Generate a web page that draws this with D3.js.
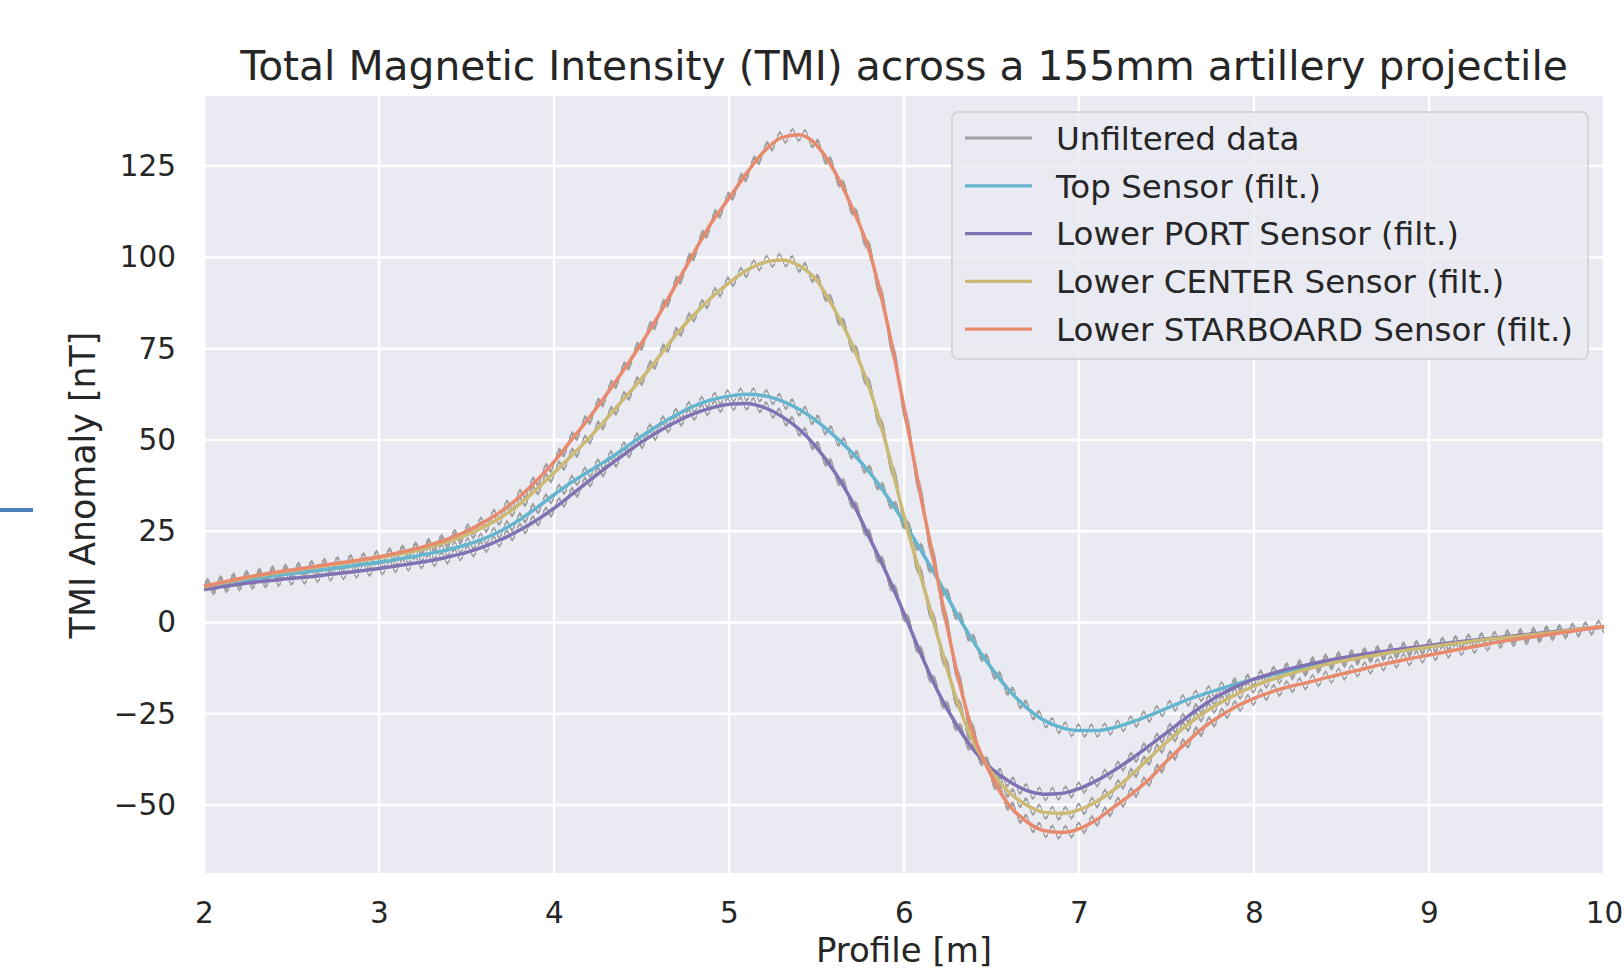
<!DOCTYPE html>
<html>
<head>
<meta charset="utf-8">
<script src="https://cdn.jsdelivr.net/npm/d3@7"></script>
<style>
  body { margin: 0; background: #fff; }
  svg text { font-family: "DejaVu Sans", sans-serif; fill: #262626; }
</style>
</head>
<body>
<svg id="chart" width="1624" height="970"></svg>
<script>
// profile positions [m]
const profile = [
  2.0, 2.1, 2.2, 2.3, 2.4, 2.5, 2.6, 2.7, 2.8, 2.9,
  3.0, 3.1, 3.2, 3.3, 3.4, 3.5, 3.6, 3.7, 3.8, 3.9,
  4.0, 4.1, 4.2, 4.3, 4.4, 4.5, 4.6, 4.7, 4.8, 4.9,
  5.0, 5.1, 5.2, 5.3, 5.4, 5.5, 5.6, 5.7, 5.8, 5.9,
  6.0, 6.1, 6.2, 6.3, 6.4, 6.5, 6.6, 6.7, 6.8, 6.9,
  7.0, 7.1, 7.2, 7.3, 7.4, 7.5, 7.6, 7.7, 7.8, 7.9,
  8.0, 8.1, 8.2, 8.3, 8.4, 8.5, 8.6, 8.7, 8.8, 8.9,
  9.0, 9.1, 9.2, 9.3, 9.4, 9.5, 9.6, 9.7, 9.8, 9.9,
  10.0
];

// filtered TMI anomaly [nT]
const topSensor = [
  9.8, 10.6, 11.4, 12.1, 12.8, 13.4, 14.0, 14.6, 15.2, 15.9,
  16.5, 17.3, 18.1, 19.0, 20.0, 21.3, 23.0, 25.2, 28.0, 31.4,
  35.0, 38.4, 41.4, 44.4, 47.6, 51.0, 54.1, 56.9, 59.3, 61.0,
  62.0, 62.5, 62.1, 60.7, 58.4, 55.2, 51.2, 46.7, 41.3, 34.8,
  27.5, 19.5, 11.3, 2.5, -5.5, -12.5, -18.5, -23.3, -26.8, -28.8,
  -29.6, -29.6, -28.8, -27.3, -25.5, -23.5, -21.5, -19.8, -18.3, -16.8,
  -15.5, -14.3, -13.2, -12.2, -11.3, -10.4, -9.6, -8.8, -8.1, -7.4,
  -6.7, -6.0, -5.4, -4.8, -4.2, -3.7, -3.2, -2.7, -2.2, -1.7,
  -1.2
];
const portSensor = [
  9.0, 9.8, 10.5, 11.1, 11.6, 12.1, 12.5, 13.1, 13.6, 14.2,
  14.8, 15.5, 16.2, 17.0, 18.0, 19.2, 20.8, 22.8, 25.2, 28.0,
  31.3, 35.0, 38.8, 42.5, 46.0, 49.4, 52.4, 55.0, 57.2, 58.8,
  59.8, 60.0, 58.9, 56.5, 53.0, 48.0, 41.5, 33.5, 23.5, 13.5,
  2.5, -9.0, -19.5, -28.0, -35.0, -40.0, -43.5, -46.0, -47.0, -46.8,
  -45.5, -43.3, -40.5, -37.3, -33.8, -30.2, -26.5, -23.0, -20.0, -17.5,
  -15.5, -14.0, -12.7, -11.6, -10.6, -9.7, -8.9, -8.2, -7.5, -6.9,
  -6.3, -5.7, -5.1, -4.6, -4.1, -3.6, -3.1, -2.6, -2.1, -1.6,
  -1.2
];
const centerSensor = [
  9.8, 10.8, 11.8, 12.7, 13.5, 14.2, 14.9, 15.6, 16.3, 17.0,
  17.7, 18.6, 19.6, 20.8, 22.2, 24.0, 26.2, 28.9, 32.3, 36.5,
  41.0, 45.7, 50.5, 55.8, 61.3, 66.8, 72.8, 79.0, 84.3, 89.0,
  93.0, 96.4, 98.6, 99.3, 97.8, 93.8, 86.0, 76.5, 64.5, 48.5,
  29.0, 12.0, -5.0, -21.0, -33.0, -41.0, -46.5, -50.0, -52.0, -52.3,
  -51.3, -49.0, -45.8, -41.7, -37.2, -32.8, -28.8, -25.2, -22.2, -19.6,
  -17.4, -15.6, -14.1, -12.8, -11.6, -10.6, -9.7, -8.9, -8.1, -7.4,
  -6.7, -6.0, -5.4, -4.8, -4.3, -3.8, -3.3, -2.8, -2.2, -1.6,
  -1.1
];
const starboardSensor = [
  10.0, 11.0, 12.0, 12.9, 13.7, 14.4, 15.1, 15.8, 16.5, 17.2,
  18.0, 19.0, 20.1, 21.4, 23.0, 25.0, 27.5, 30.5, 34.3, 38.8,
  44.0, 50.0, 56.0, 62.5, 69.3, 76.5, 84.3, 92.8, 101.3, 109.5,
  116.2, 123.0, 129.0, 132.8, 133.6, 130.8, 123.8, 114.0, 102.0, 83.0,
  59.0, 33.5, 10.0, -13.0, -31.0, -42.0, -50.0, -54.5, -57.0, -57.5,
  -56.5, -54.0, -50.5, -47.0, -43.0, -38.0, -33.5, -29.2, -25.8, -23.0,
  -20.8, -19.0, -17.6, -16.5, -15.3, -14.1, -13.0, -11.8, -10.8, -9.8,
  -8.9, -8.0, -7.1, -6.2, -5.3, -4.6, -3.9, -3.2, -2.5, -1.8,
  -1.1
];

const seriesNames = ["Top Sensor (filt.)", "Lower PORT Sensor (filt.)", "Lower CENTER Sensor (filt.)", "Lower STARBOARD Sensor (filt.)"];
const seriesValues = [topSensor, portSensor, centerSensor, starboardSensor];
const seriesColors = ["#64b5cd", "#8172b3", "#ccb974", "#e88a6d"];

const xTicks = [2, 3, 4, 5, 6, 7, 8, 9, 10];
const yTicks = [-50, -25, 0, 25, 50, 75, 100, 125];

const svg = d3.select("#chart");

const x = d3.scaleLinear().domain([2, 10]).range([204, 1604]);
const y = d3.scaleLinear().domain([-68.6, 144.2]).range([873, 96]);

// plot background
svg.append("rect").attr("x", 204).attr("y", 96).attr("width", 1400).attr("height", 777).attr("fill", "#eaeaf2");

// grid
svg.append("g").selectAll("line").data(xTicks).join("line")
  .attr("x1", d => x(d)).attr("x2", d => x(d)).attr("y1", 96).attr("y2", 873)
  .attr("stroke", "#fff").attr("stroke-width", 2.5);
svg.append("g").selectAll("line").data(yTicks).join("line")
  .attr("x1", 204).attr("x2", 1604).attr("y1", d => y(d)).attr("y2", d => y(d))
  .attr("stroke", "#fff").attr("stroke-width", 2.5);

// ripple filter for the unfiltered traces (periodic vertical displacement)
const waveStops = [[0, 128], [0.125, 218], [0.25, 255], [0.375, 218], [0.5, 128], [0.625, 38], [0.75, 0], [0.875, 38], [1, 128]];
const waveSvg = "<svg xmlns='http://www.w3.org/2000/svg' width='13' height='13'><defs><linearGradient id='w' x1='0' x2='1' y1='0' y2='0'>" +
  waveStops.map(s => "<stop offset='" + s[0] + "' stop-color='rgb(128," + s[1] + ",128)'/>").join("") +
  "</linearGradient></defs><rect width='13' height='13' fill='url(#w)'/></svg>";
const defs = svg.append("defs");
const filt = defs.append("filter").attr("id", "ripple")
  .attr("filterUnits", "userSpaceOnUse").attr("primitiveUnits", "userSpaceOnUse")
  .attr("x", 204).attr("y", 60).attr("width", 1400).attr("height", 850)
  .attr("color-interpolation-filters", "sRGB");
filt.append("feImage")
  .attr("href", "data:image/svg+xml;charset=utf-8," + encodeURIComponent(waveSvg))
  .attr("x", 204).attr("y", 60).attr("width", 13).attr("height", 13)
  .attr("preserveAspectRatio", "none").attr("result", "tile");
filt.append("feTile").attr("in", "tile").attr("result", "wave");
filt.append("feDisplacementMap").attr("in", "SourceGraphic").attr("in2", "wave")
  .attr("scale", 12).attr("xChannelSelector", "R").attr("yChannelSelector", "G");

const line = d3.line()
  .x((d, i) => x(profile[i]))
  .y(d => y(d))
  .curve(d3.curveMonotoneX);

// unfiltered data (grey, with ripple)
svg.append("g").attr("filter", "url(#ripple)")
  .selectAll("path").data(seriesValues).join("path")
  .attr("d", line)
  .attr("fill", "none").attr("stroke", "#a0a0a0").attr("stroke-width", 2.8);

// filtered lines
svg.append("g").selectAll("path").data(seriesValues).join("path")
  .attr("d", line)
  .attr("fill", "none")
  .attr("stroke", (d, i) => seriesColors[i])
  .attr("stroke-width", 3.5)
  .attr("stroke-linejoin", "round");

// axes
const xAxis = svg.append("g").attr("transform", "translate(0,873)")
  .call(d3.axisBottom(x).tickValues(xTicks).tickSize(0).tickPadding(29).tickFormat(d3.format("d")));
const yAxis = svg.append("g").attr("transform", "translate(204,0)")
  .call(d3.axisLeft(y).tickValues(yTicks).tickSize(0).tickPadding(28).tickFormat(d3.format("d")));
[xAxis, yAxis].forEach(a => {
  a.select(".domain").remove();
  a.selectAll("text").attr("font-family", "DejaVu Sans").attr("font-size", 29.5).attr("fill", "#262626");
});

// title and labels
svg.append("text").attr("x", 904).attr("y", 80).attr("text-anchor", "middle")
  .attr("font-size", 40.8).text("Total Magnetic Intensity (TMI) across a 155mm artillery projectile");
svg.append("text").attr("x", 904).attr("y", 962).attr("text-anchor", "middle")
  .attr("font-size", 34).text("Profile [m]");
svg.append("text").attr("transform", "translate(95,485) rotate(-90)").attr("text-anchor", "middle")
  .attr("font-size", 34.8).text("TMI Anomaly [nT]");

// legend
const legendItems = [{ name: "Unfiltered data", color: "#a0a0a0" }]
  .concat(seriesNames.map((n, i) => ({ name: n, color: seriesColors[i] })));
const lg = svg.append("g");
lg.append("rect").attr("x", 952).attr("y", 112).attr("width", 636).attr("height", 247).attr("rx", 6)
  .attr("fill", "rgba(234,234,242,0.8)").attr("stroke", "#cfcfd4").attr("stroke-width", 1.5);
const rows = lg.selectAll("g.row").data(legendItems).join("g").attr("class", "row")
  .attr("transform", (d, i) => "translate(0," + (138 + i * 47.8) + ")");
rows.append("line").attr("x1", 965).attr("x2", 1032).attr("y1", 0).attr("y2", 0)
  .attr("stroke", d => d.color).attr("stroke-width", 3.2);
rows.append("text").attr("x", 1056).attr("dy", "0.36em").attr("font-size", 32.5).text(d => d.name);

// stray blue mark at left edge of the screenshot
svg.append("line").attr("x1", 0).attr("x2", 33).attr("y1", 510).attr("y2", 510)
  .attr("stroke", "#4f81bd").attr("stroke-width", 4);
</script>
</body>
</html>
